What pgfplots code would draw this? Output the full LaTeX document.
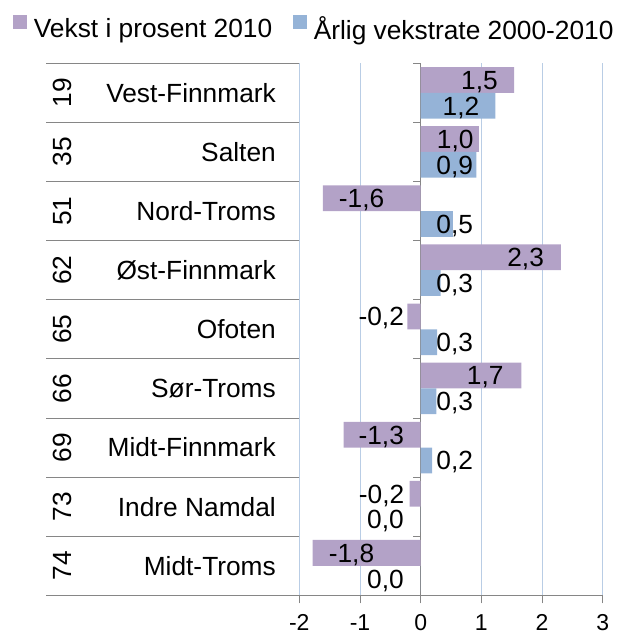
\documentclass[border=0pt]{standalone}
\usepackage{fontspec}
\setmainfont{Liberation Sans}
\usepackage{pgfplots}
\pgfplotsset{compat=1.18}
\definecolor{purp}{HTML}{B3A2C7}
\definecolor{blu}{HTML}{95B3D7}
\definecolor{gridc}{HTML}{B9CDE5}
\definecolor{axgray}{HTML}{868686}
\begin{document}
\fontsize{26.3bp}{31bp}\selectfont
\begin{tikzpicture}
\useasboundingbox (-299.3bp,-40.7bp) rectangle (318.7bp,595.3bp);
\begin{axis}[
  at={(0,0)}, anchor=south west,
  scale only axis, width=303.4bp, height=532bp,
  xmin=-2, xmax=3, ymin=-0.5, ymax=8.5, y dir=reverse,
  clip=false,
  axis x line*=bottom, axis y line*=left,
  y axis line style={draw=none},
  x axis line style={draw=axgray, line width=0.9bp, -},
  xtick={-2,-1,1,2,3}, xticklabels={-2,-1,1,2,3},
  extra x ticks={0}, extra x tick labels={0},
  extra x tick style={grid=major, major grid style={draw=axgray, line width=0.9bp}},
  tick align=outside, major tick length=8bp,
  xtick style={draw=axgray, line width=0.9bp},
  xticklabel style={anchor=north, inner sep=0pt, yshift=-11bp, font=\fontsize{23bp}{27bp}\selectfont},
  xmajorgrids, major grid style={draw=gridc, line width=0.9bp},
  ytick={0,...,8},
  yticklabels={Vest-Finnmark,Salten,Nord-Troms,Øst-Finnmark,Ofoten,Sør-Troms,Midt-Finnmark,Indre Namdal,Midt-Troms},
  ytick style={draw=none},
  yticklabel style={anchor=east, inner sep=0pt, xshift=-15.3bp},
  extra y ticks={0,...,8},
  extra y tick labels={19,35,51,62,65,66,69,73,74},
  extra y tick style={ytick style={draw=none}, yticklabel style={anchor=center, xshift=-213.5bp, rotate=90}},
  legend style={at={(axis description cs:-0.9446,1.0641)}, anchor=west, draw=none, fill=none, inner sep=0pt,
    /tikz/every even column/.append style={column sep=20.6bp}, nodes={inner sep=0pt}},
  legend columns=2,
  legend image code/.code={\fill[#1] (0bp,1bp) rectangle (14bp,15bp); \path (21bp,0bp);},
]
\addplot[xbar, bar width=0.436, bar shift=-0.218, fill=purp, draw=none]
  coordinates {(1.54,0) (0.96,1) (-1.61,2) (2.31,3) (-0.22,4) (1.66,5) (-1.27,6) (-0.18,7) (-1.78,8)};
\addlegendentry{Vekst i prosent 2010}
\addplot[xbar, bar width=0.436, bar shift=0.218, fill=blu, draw=none]
  coordinates {(1.23,0) (0.92,1) (0.53,2) (0.33,3) (0.27,4) (0.26,5) (0.19,6) (0,7) (0,8)};
\addlegendentry{Årlig vekstrate 2000-2010}
\addplot[forget plot, only marks, mark=none, point meta=explicit symbolic, nodes near coords,
  nodes near coords style={anchor=base, yshift=-9.4bp, inner sep=0pt, text=black}]
  table[meta=lab] {
x y lab
0.969 -0.218 1,5
0.569 0.782 1,0
-0.974 1.782 -1,6
1.73 2.782 2,3
-0.649 3.782 -0,2
1.064 4.782 1,7
-0.649 5.782 -1,3
-0.644 6.782 -0,2
-1.14 7.782 -1,8
};
\addplot[forget plot, only marks, mark=none, point meta=explicit symbolic, nodes near coords,
  nodes near coords style={anchor=base, yshift=-9.4bp, inner sep=0pt, text=black}]
  table[meta=lab] {
x y lab
0.665 0.218 1,2
0.561 1.218 0,9
0.561 2.218 0,5
0.561 3.218 0,3
0.561 4.218 0,3
0.561 5.218 0,3
0.561 6.218 0,2
-0.58 7.218 0,0
-0.58 8.218 0,0
};
\pgfplotsinvokeforeach{-0.5,0.5,1.5,2.5,3.5,4.5,5.5,6.5,7.5,8.5}{
  \draw[axgray, line width=0.9bp] (axis cs:0,#1) -- ++(-8bp,0bp);
  \draw[axgray, line width=0.9bp] (axis cs:-2,#1) -- ++(-253.3bp,0bp);
}
\end{axis}
\end{tikzpicture}
\end{document}
